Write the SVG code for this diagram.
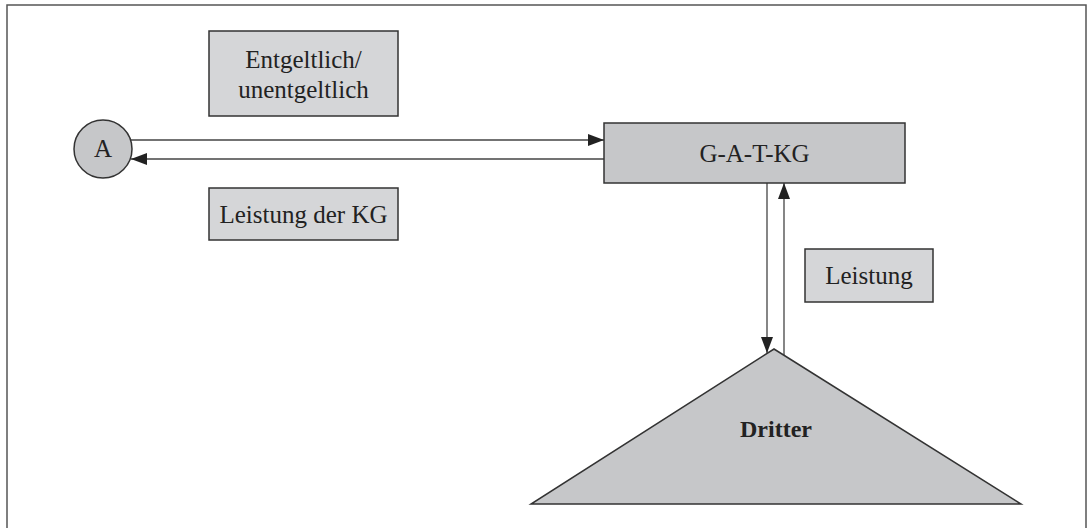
<svg xmlns="http://www.w3.org/2000/svg" width="1087" height="528" viewBox="0 0 1087 528">
  <style>
    .frame { fill: #ffffff; stroke: #555555; stroke-width: 1.5; }
    .node { fill: #c6c7c9; stroke: #333333; stroke-width: 1.5; }
    .label { fill: #d5d6d8; stroke: #333333; stroke-width: 1.5; }
    .txt { font-family: "Liberation Serif", "Times New Roman", serif; font-size: 25px; fill: #222222; text-anchor: middle; }
    .bold { font-weight: bold; font-size: 24px; }
    .conn { stroke: #444444; stroke-width: 1.3; fill: none; }
  </style>
  <defs>
    <marker id="arrow" viewBox="0 0 16 12" refX="16" refY="6" markerWidth="16" markerHeight="12" markerUnits="userSpaceOnUse" orient="auto">
      <path d="M0,0 L16,6 L0,12 Z" fill="#222222"/>
    </marker>
  </defs>
  <rect class="frame" x="7" y="5" width="1079" height="540"/>

  <g id="connectors">
    <line class="conn" x1="131" y1="140" x2="604" y2="140" marker-end="url(#arrow)"/>
    <line class="conn" x1="604" y1="159" x2="131" y2="159" marker-end="url(#arrow)"/>
    <line class="conn" x1="767" y1="183" x2="767" y2="353" marker-end="url(#arrow)"/>
    <line class="conn" x1="784" y1="355" x2="784" y2="183" marker-end="url(#arrow)"/>
  </g>

  <g id="node-A">
    <circle class="node" cx="103" cy="149" r="29"/>
    <text class="txt" x="103" y="157">A</text>
  </g>

  <g id="label-entgeltlich">
    <rect class="label" x="209" y="31" width="189" height="85"/>
    <text class="txt" x="303.5" y="68">Entgeltlich/</text>
    <text class="txt" x="303.5" y="98">unentgeltlich</text>
  </g>

  <g id="label-leistung-kg">
    <rect class="label" x="209" y="188" width="189" height="52"/>
    <text class="txt" x="303.5" y="223">Leistung der KG</text>
  </g>

  <g id="node-gatkg">
    <rect class="node" x="604" y="123" width="301" height="60"/>
    <text class="txt" x="754.5" y="162">G-A-T-KG</text>
  </g>

  <g id="label-leistung">
    <rect class="label" x="805" y="249" width="128" height="53"/>
    <text class="txt" x="869" y="284">Leistung</text>
  </g>

  <g id="node-dritter">
    <polygon class="node" points="774,349 1021,504 531,504"/>
    <text class="txt bold" x="776" y="437">Dritter</text>
  </g>
</svg>
